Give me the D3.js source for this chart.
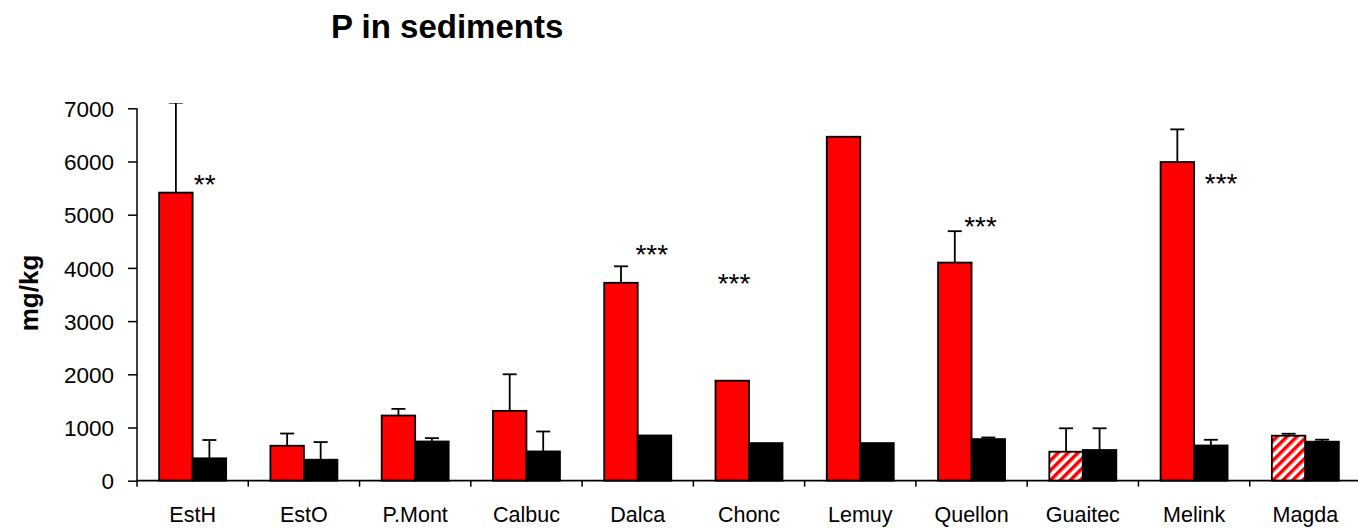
<!DOCTYPE html>
<html>
<head>
<meta charset="utf-8">
<script src="https://cdn.jsdelivr.net/npm/d3@7"></script>
<style>
  html, body { margin: 0; padding: 0; background: #fff; }
  svg { display: block; font-family: "Liberation Sans", Arial, sans-serif; }
</style>
</head>
<body>
<svg id="chart" width="1358" height="528"></svg>
<script>
// ---- data ----
const categories = ["EstH", "EstO", "P.Mont", "Calbuc", "Dalca", "Chonc", "Lemuy", "Quellon", "Guaitec", "Melink", "Magda"];
const redValues   = [5415, 657, 1225, 1313, 3720, 1880, 6465, 4100, 545, 5990, 846];
const redErrors   = [1690, 230, 125, 687, 310, 0, 0, 590, 440, 614, 37];
const blackValues = [421, 394, 737, 550, 850, 707, 707, 782, 577, 662, 733];
const blackErrors = [344, 332, 63, 375, 0, 0, 0, 30, 408, 107, 38];
const yTicks = [0, 1000, 2000, 3000, 4000, 5000, 6000, 7000];
const hatchedCategories = ["Guaitec", "Magda"];
const starCategories = ["EstH", "Dalca", "Chonc", "Quellon", "Melink"];
const starLabels = ["**", "***", "***", "***", "***"];
const starValues = [5690, 4374, 3829, 4900, 5709];

// ---- layout ----
const svg = d3.select("#chart");
const x0 = 137, x1 = 1361, yBottom = 480.7, yTop = 108.3;

const x = d3.scaleBand().domain(categories).range([x0, x1]).paddingInner(0).paddingOuter(0);
const y = d3.scaleLinear().domain([0, 7000]).range([yBottom, yTop]);
const barW = 33.5;
const sub = d3.scaleBand().domain(["red", "black"]).range([-barW, barW]);
const starOffset = { "EstH": 12, "Dalca": 14, "Chonc": -15, "Quellon": 9, "Melink": 27 };

const defs = svg.append("defs");
const pat = defs.append("pattern")
  .attr("id", "hatch").attr("patternUnits", "userSpaceOnUse")
  .attr("width", 7).attr("height", 7)
  .attr("patternTransform", "rotate(45)");
pat.append("rect").attr("width", 7).attr("height", 7).attr("fill", "#fff");
pat.append("rect").attr("width", 3.5).attr("height", 7).attr("fill", "#ff0000");

defs.append("clipPath").attr("id", "plotclip")
  .append("rect").attr("x", 0).attr("y", 103).attr("width", 1358).attr("height", 400);

// title
svg.append("text").attr("x", 331).attr("y", 38)
  .attr("font-size", 33).attr("font-weight", "bold").attr("fill", "#000")
  .text("P in sediments");

// y label
svg.append("text")
  .attr("transform", "translate(38,293) rotate(-90)")
  .attr("text-anchor", "middle")
  .attr("font-size", 26).attr("font-weight", "bold")
  .text("mg/kg");

// series data
const rows = categories.map((c, i) => ({
  c,
  series: [
    { key: "red", v: redValues[i], e: redErrors[i] },
    { key: "black", v: blackValues[i], e: blackErrors[i] }
  ]
}));

const plot = svg.append("g").attr("clip-path", "url(#plotclip)");

const groups = plot.selectAll("g.cat").data(rows).join("g")
  .attr("class", "cat")
  .attr("transform", d => `translate(${x(d.c) + x.bandwidth() / 2},0)`);

// error bars
groups.each(function (d) {
  const g = d3.select(this);
  d.series.forEach(s => {
    if (s.e <= 0) return;
    const cx = sub(s.key) + sub.bandwidth() / 2;
    const top = y(s.v + s.e);
    g.append("line").attr("x1", cx).attr("x2", cx)
      .attr("y1", y(s.v)).attr("y2", top)
      .attr("stroke", "#000").attr("stroke-width", 1.8);
    g.append("line").attr("x1", cx - 7).attr("x2", cx + 7)
      .attr("y1", top).attr("y2", top)
      .attr("stroke", "#000").attr("stroke-width", 1.8);
  });
});

groups.selectAll("rect.bar").data(d => d.series.map(s => ({ ...s, c: d.c }))).join("rect")
  .attr("class", "bar")
  .attr("x", s => sub(s.key))
  .attr("width", sub.bandwidth())
  .attr("y", s => y(s.v))
  .attr("height", s => y(0) - y(s.v))
  .attr("fill", s => s.key === "black" ? "#000" : (hatchedCategories.includes(s.c) ? "url(#hatch)" : "#ff0000"))
  .attr("stroke", "#000").attr("stroke-width", 1.8);

// y axis
const yAxis = d3.axisLeft(y).tickValues(yTicks).tickSize(9).tickPadding(14).tickFormat(d3.format("d"));
const gy = svg.append("g").attr("transform", `translate(${x0},0)`).call(yAxis);
gy.select(".domain").attr("stroke", "#000").attr("stroke-width", 1.5).attr("d", `M0,${yTop}V${yBottom}`);
gy.selectAll(".tick line").attr("stroke", "#000").attr("stroke-width", 1.5);
gy.selectAll(".tick text").attr("font-size", 22.5).attr("fill", "#000").attr("font-family", "Liberation Sans, Arial, sans-serif").attr("dy", "0.36em");

// x axis
const gx = svg.append("g").attr("transform", `translate(0,${yBottom})`);
gx.append("line").attr("x1", x0).attr("x2", 1358).attr("y1", 0).attr("y2", 0)
  .attr("stroke", "#000").attr("stroke-width", 1.8);
const boundaries = categories.map(c => x(c));
gx.selectAll("line.tk").data(boundaries).join("line").attr("class", "tk")
  .attr("x1", d => d).attr("x2", d => d).attr("y1", 0).attr("y2", 6)
  .attr("stroke", "#000").attr("stroke-width", 1.5);
gx.selectAll("text.lbl").data(categories).join("text").attr("class", "lbl")
  .attr("x", c => x(c) + x.bandwidth() / 2).attr("y", 41)
  .attr("text-anchor", "middle").attr("font-size", 21.5).attr("fill", "#000")
  .text(c => c);

// significance stars
svg.selectAll("text.star").data(starCategories).join("text").attr("class", "star")
  .attr("x", (c, i) => x(c) + x.bandwidth() / 2 + starOffset[c])
  .attr("y", (c, i) => y(starValues[i]) + 16)
  .attr("text-anchor", "middle").attr("font-size", 28).attr("fill", "#000")
  .text((c, i) => starLabels[i]);
</script>
</body>
</html>
